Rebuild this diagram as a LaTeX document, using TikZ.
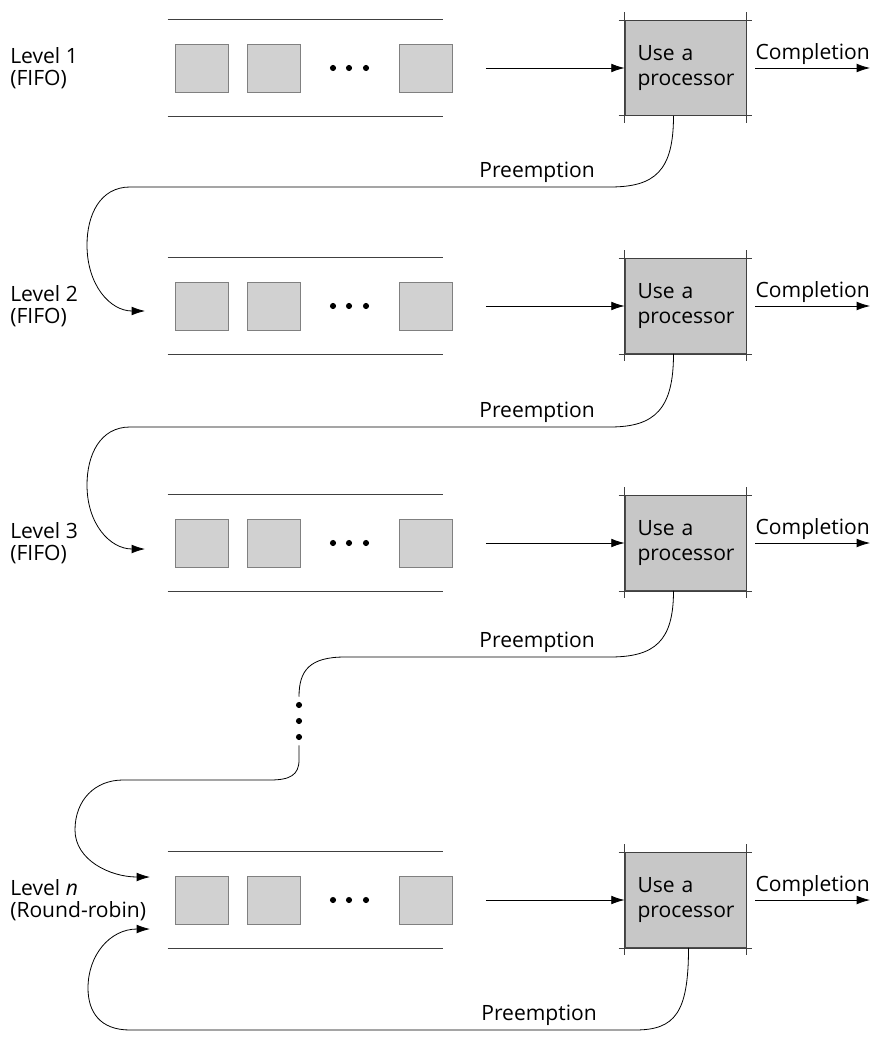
\documentclass[tikz,border=0pt]{standalone}
\usepackage{fontspec}
\setmainfont{Open Sans}
\usetikzlibrary{positioning, calc, arrows.meta}

\begin{document}
\begin{tikzpicture}[
    % pixel-like units, y grows downwards
    x=0.75pt, y=-0.75pt,
    font=\fontsize{15.8}{16.8}\selectfont,
    job/.style={
        rectangle, draw=black!50, fill=black!18, line width=0.5pt,
        minimum width=39.75pt, minimum height=36pt, inner sep=0pt
    },
    cpu/.style={
        rectangle, draw=black!70, fill=black!22, line width=0.6pt,
        minimum width=90.75pt, minimum height=71.25pt,
        text width=72pt, align=left, font=\fontsize{15.8}{18.8}\selectfont
    },
    lane/.style={minimum width=206.25pt, minimum height=72.75pt, inner sep=0pt},
    lvltext/.style={align=left, anchor=west, inner sep=0pt},
    edge/.style={draw=black!75, line width=0.6pt},
    dotcol/.style={
        minimum width=6pt, minimum height=36pt, inner sep=0pt,
        path picture={\foreach \dy in {-16,0,16}
            \fill ($(path picture bounding box.center)+(0,\dy)$) circle (2.3pt);}
    },
    feed/.style={-{Latex[length=10pt, width=6.5pt]}, line width=0.6pt},
    preempt/.style={-{Latex[length=10pt, width=6.5pt]}, line width=0.6pt}
]
\useasboundingbox (0,0) rectangle (872,1037);

% 1. One row per level: label, queue, processor, completion
\foreach \i/\y/\lvl/\kind in {1/68/{Level 1}/FIFO, 2/306/{Level 2}/FIFO,
        3/543/{Level 3}/FIFO, n/900/{Level \textit{n}}/Round-robin} {
    \node[lvltext] (lbl\i) at (10,\y) {\lvl\\(\kind)};
    \node[lane] (lane\i) at (305.5,\y) {};
    \draw[edge] (lane\i.north west) -- (lane\i.north east)
                (lane\i.south west) -- (lane\i.south east);
    \node[job] (first\i) at (201.5,\y) {};
    \node[job, right=14.25pt of first\i] (second\i) {};
    \node[job] (last\i) at (426,\y) {};
    \foreach \dx in {333,349,366} \fill (\dx,\y) circle (2.3pt);
    \node[cpu] (cpu\i) at (685.5,\y) {Use a\\processor};
    \draw[edge] ($(cpu\i.north west)+(-6,0)$) -- ++(133,0)
                ($(cpu\i.south west)+(-6,0)$) -- ++(133,0)
                ($(cpu\i.north west)+(0,-8)$) -- ++(0,111)
                ($(cpu\i.north east)+(0,-8)$) -- ++(0,111);
    \coordinate (done\i) at (870,\y);
    \draw[feed] ($(last\i.east)+(33,0)$) -- (cpu\i);
    \draw[feed] ($(cpu\i.east)+(9,0)$) -- node[above, inner sep=2pt] {Completion} (done\i);
}

% 2. Entry points of the preempted jobs
\coordinate (in2) at (145,311);
\coordinate (in3) at (145,549);
\coordinate (inn) at (150,877);
\coordinate (back) at (150,929);
\node[dotcol] (gap) at (299,721) {};

% 3. Preemption paths
\draw[preempt] ($(cpu1.south)+(-12,0)$) .. controls +(0,55) and +(45,0) .. (610,187)
    -- node[above, pos=0.152] {Preemption} (130,187)
    .. controls (100,187) and (87,215) .. (87,245)
    .. controls (87,285) and (110,311) .. (in2);
\draw[preempt] ($(cpu2.south)+(-12,0)$) .. controls +(0,55) and +(45,0) .. (610,427)
    -- node[above, pos=0.152] {Preemption} (130,427)
    .. controls (100,427) and (87,455) .. (87,485)
    .. controls (87,524) and (110,549) .. (in3);
\draw[line width=0.6pt] ($(cpu3.south)+(-12,0)$) .. controls +(0,50) and +(45,0) .. (610,657)
    -- node[above, pos=0.275] {Preemption} (345,657)
    .. controls (310,657) and (299,670) .. (gap.north);
\draw[preempt] (gap.south) -- (299,760) .. controls (299,775) and (290,780) .. (270,780)
    -- (123,780) .. controls (95,780) and (75,800) .. (75,830)
    .. controls (75,860) and (110,877) .. (inn);
\draw[preempt] ($(cpun.south)+(3,0)$) .. controls +(0,65) and +(40,0) .. (635,1030)
    -- node[above, pos=0.19] {Preemption} (130,1030)
    .. controls (100,1030) and (88,1012) .. (88,988)
    .. controls (88,955) and (110,929) .. (back);

\end{tikzpicture}
\end{document}
